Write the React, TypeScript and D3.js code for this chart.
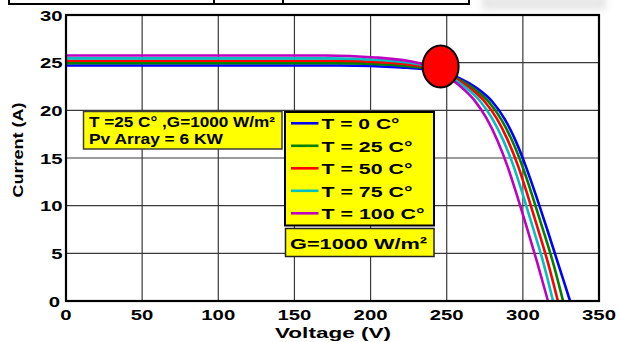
import React from 'react';
import * as d3 from 'd3';

const voltageTicks = [0, 50, 100, 150, 200, 250, 300, 350];
const currentTicks = [0, 5, 10, 15, 20, 25, 30];

const legendLabels = ['T = 0 C°', 'T = 25 C°', 'T = 50 C°', 'T = 75 C°', 'T = 100 C°'];
const seriesColors = ['#0000ff', '#008000', '#ff0000', '#00c0c0', '#c000c0'];

// I-V points (voltage V, current A)
const vT0 = [0, 180, 220, 245, 258, 270, 280, 288, 295, 302, 309, 316, 323, 331];
const iT0 = [24.7, 24.7, 24.5, 24.1, 23.4, 22.3, 20.9, 19.1, 16.9, 14.1, 10.9, 7.5, 4.0, 0];
const vT25 = [0, 178, 215, 243, 256, 268, 278, 286, 293, 300, 306.5, 313, 319.5, 326.4];
const iT25 = [24.95, 24.95, 24.75, 24.25, 23.4, 22.25, 20.8, 19.0, 16.8, 14.0, 10.9, 7.6, 4.2, 0];
const vT50 = [0, 176, 212, 240, 253, 265, 275, 283, 290, 297, 303.5, 310, 316.5, 323];
const iT50 = [25.2, 25.2, 25.0, 24.45, 23.55, 22.35, 20.9, 19.1, 16.9, 14.1, 10.9, 7.5, 4.0, 0];
const vT75 = [0, 173, 208, 237, 250, 262, 272, 280, 287, 294, 300.5, 307, 313.5, 319.8];
const iT75 = [25.45, 25.45, 25.25, 24.65, 23.7, 22.45, 20.95, 19.1, 16.9, 14.1, 10.9, 7.5, 4.0, 0];
const vT100 = [0, 170, 203, 233, 246, 258, 268, 276, 283, 290, 296.5, 303, 309.5, 316.5];
const iT100 = [25.75, 25.75, 25.55, 24.9, 23.95, 22.65, 21.1, 19.2, 16.95, 14.1, 10.9, 7.5, 4.0, 0];

const voltages = [vT0, vT25, vT50, vT75, vT100];
const currents = [iT0, iT25, iT50, iT75, iT100];

// maximum power point marker
const mppVoltage = 246;
const mppCurrent = 24.6;

const infoLines = ['T =25 C° ,G=1000 W/m²', 'Pv Array = 6 KW'];
const irradianceLabel = 'G=1000 W/m²';

const FONT = '"Liberation Sans", Arial, Helvetica, sans-serif';

export default function App() {
  const width = 619;
  const height = 342;
  const margin = { top: 15, right: 20, bottom: 41, left: 66 };

  const x = d3.scaleLinear().domain([0, 350]).range([margin.left, width - margin.right]);
  const y = d3.scaleLinear().domain([0, 30]).range([height - margin.bottom, margin.top]);

  const line = d3
    .line<[number, number]>()
    .x(d => x(d[0]))
    .y(d => y(d[1]))
    .curve(d3.curveMonotoneX);

  const legendTextW = [78, 91, 91, 91, 103];

  return (
    <svg
      width={width}
      height={height}
      style={{ position: 'absolute', left: 0, top: 0, background: '#fff' }}
      fontFamily={FONT}
      fontWeight="bold"
    >
      <defs>
        <filter id="blur" x="-20%" y="-50%" width="140%" height="200%">
          <feGaussianBlur stdDeviation="3" />
        </filter>
      </defs>

      {/* cropped table edge at the top */}
      <g stroke="#000" strokeWidth={2} fill="none">
        <line x1={8} x2={470} y1={4} y2={4} />
        <line x1={9} x2={9} y1={0} y2={5} />
        <line x1={214} x2={214} y1={0} y2={5} />
        <line x1={283} x2={283} y1={0} y2={5} />
        <line x1={469} x2={469} y1={0} y2={5} />
      </g>
      <rect x={482} y={-4} width={124} height={14} fill="#d8d8d8" opacity={0.6} filter="url(#blur)" />

      {/* grid */}
      <g stroke="#3a3a3a" strokeWidth={1.2}>
        {voltageTicks.slice(1, -1).map(v => (
          <line key={'gx' + v} x1={x(v)} x2={x(v)} y1={y(30)} y2={y(0)} />
        ))}
        {currentTicks.slice(1, -1).map(c => (
          <line key={'gy' + c} x1={x(0)} x2={x(350)} y1={y(c)} y2={y(c)} />
        ))}
      </g>

      {/* curves */}
      <g fill="none" strokeWidth={2.6} strokeLinejoin="round">
        {voltages.map((vs, k) => (
          <path
            key={k}
            d={line(vs.map((v, j) => [v, currents[k][j]] as [number, number])) || ''}
            stroke={seriesColors[k]}
          />
        ))}
      </g>

      <ellipse cx={x(mppVoltage)} cy={y(mppCurrent)} rx={18} ry={21} fill="#ff0000" stroke="#000" strokeWidth={2} />

      {/* frame */}
      <rect
        x={x(0)}
        y={y(30)}
        width={x(350) - x(0)}
        height={y(0) - y(30)}
        fill="none"
        stroke="#000"
        strokeWidth={2.2}
      />

      {/* tick labels */}
      <g fontSize={15.5} fill="#000">
        {voltageTicks.map(v => (
          <text
            key={'tx' + v}
            x={x(v)}
            y={320}
            textAnchor="middle"
            textLength={String(v).length * 11.3}
            lengthAdjust="spacingAndGlyphs"
          >
            {v}
          </text>
        ))}
        {currentTicks.map(c => (
          <text
            key={'ty' + c}
            x={c === 0 ? 60 : 62.5}
            y={y(c) + (c === 0 ? 6 : 5.5)}
            textAnchor="end"
            textLength={String(c).length * 11.3}
            lengthAdjust="spacingAndGlyphs"
          >
            {c}
          </text>
        ))}
      </g>

      {/* axis titles */}
      <text x={333} y={338} fontSize={15} textAnchor="middle" textLength={116} lengthAdjust="spacingAndGlyphs">
        Voltage (V)
      </text>
      <text
        transform="translate(23,150) rotate(-90)"
        fontSize={14}
        textAnchor="middle"
        textLength={95}
        lengthAdjust="spacingAndGlyphs"
      >
        Current (A)
      </text>

      {/* info box */}
      <rect x={83.5} y={111.5} width={198.5} height={37.5} fill="#ffff00" stroke="#3c3c3c" strokeWidth={1.5} />
      <text x={89} y={127} fontSize={14} textLength={186} lengthAdjust="spacingAndGlyphs">
        {infoLines[0]}
      </text>
      <text x={89} y={144} fontSize={14} textLength={134} lengthAdjust="spacingAndGlyphs">
        {infoLines[1]}
      </text>

      {/* legend */}
      <rect x={285} y={112} width={149} height={113.5} fill="#ffff00" stroke="#000" strokeWidth={2} />
      {legendLabels.map((lab, k) => {
        const cy = 123.3 + k * 22.5;
        return (
          <g key={lab}>
            <line x1={291} x2={318.5} y1={cy} y2={cy} stroke={seriesColors[k]} strokeWidth={2.6} />
            <text x={321.5} y={cy + 5.8} fontSize={15.5} textLength={legendTextW[k]} lengthAdjust="spacingAndGlyphs">
              {lab}
            </text>
          </g>
        );
      })}

      {/* irradiance box */}
      <rect x={285.5} y={228.5} width={148.5} height={28} fill="#ffff00" stroke="#222" strokeWidth={1.5} />
      <text x={290} y={248.5} fontSize={15.5} textLength={137} lengthAdjust="spacingAndGlyphs">
        {irradianceLabel}
      </text>
    </svg>
  );
}
